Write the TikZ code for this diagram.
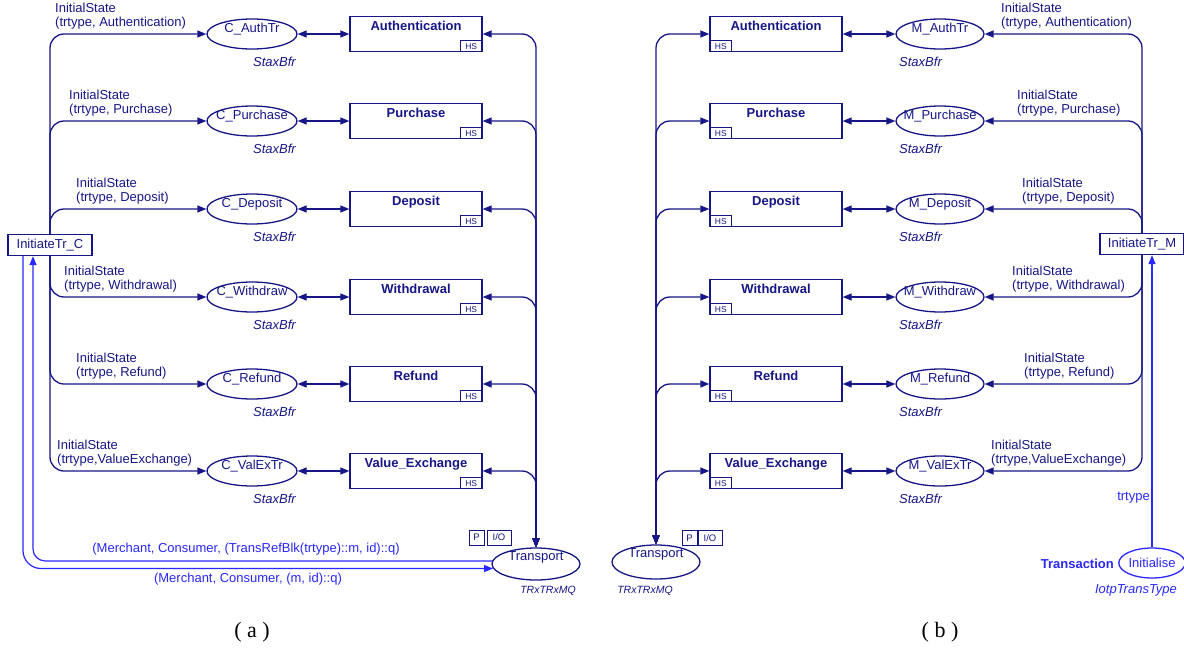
\documentclass[tikz,border=0pt]{standalone}
\usepackage{fontspec}
\setmainfont{Liberation Sans}
\newfontfamily\captionserif{Liberation Serif}
\usetikzlibrary{shapes.geometric,arrows.meta}

\definecolor{netnavy}{RGB}{22,22,135}
\definecolor{netblue}{RGB}{40,40,255}

\tikzset{
  every node/.style={font=\fontsize{13}{14.5}\selectfont, text=netnavy, inner sep=0pt},
  place/.style={ellipse, draw=netnavy, line width=1.3pt, minimum width=90pt, minimum height=30pt},
  placetext/.style={anchor=center, yshift=-11pt},
  subst/.style={rectangle, draw=netnavy, line width=1.3pt, minimum width=132pt, minimum height=35pt},
  substtitle/.style={anchor=north, yshift=-5.5pt, font=\bfseries\fontsize{13}{14.5}\selectfont},
  hstag/.style={rectangle, draw=netnavy, line width=0.9pt, minimum width=22pt, minimum height=11pt, font=\fontsize{8.5}{9}\selectfont},
  porttag/.style={rectangle, draw=netnavy, line width=0.9pt, minimum width=15pt, minimum height=15pt, font=\fontsize{9.5}{10}\selectfont},
  trans/.style={rectangle, draw=netnavy, line width=1.3pt, minimum width=84pt, minimum height=21pt},
  colset/.style={font=\itshape\fontsize{13}{14.5}\selectfont},
  smallcolset/.style={font=\itshape\fontsize{10.5}{12}\selectfont},
  arclabel/.style={align=left, anchor=north west, font=\fontsize{13}{14}\selectfont},
  arc/.style={draw=netnavy, line width=1.3pt, rounded corners=14pt},
  bluearc/.style={draw=netblue, line width=1.2pt},
  bluetext/.style={text=netblue},
  caption/.style={font=\captionserif\fontsize{22}{24}\selectfont, text=black},
  >={Triangle[length=9pt,width=7pt]}
}

\begin{document}
\begin{tikzpicture}[x=1pt,y=-1pt]
\useasboundingbox (0,0) rectangle (1184,648);

% ---------- consumer page ----------
\node[trans] (itc) at (50,245) {InitiateTr\_C};
\node[place, minimum width=88pt, minimum height=32pt,
      label={[placetext, yshift=1pt]north:Transport}] (ta) at (536,564) {};
\node[smallcolset] (tta) at (548,591) {TRxTRxMQ};
\node[porttag] (pa) at (476.5,537.5) {P};
\node[porttag, minimum width=24pt] (ioa) at (499,537.5) {I/O};

% ---------- merchant page ----------
\node[trans] (itm) at (1142,244) {InitiateTr\_M};
\node[place, minimum width=88pt, minimum height=34pt,
      label={[placetext, yshift=1pt]north:Transport}] (tb) at (656,562) {};
\node[smallcolset] (ttb) at (645,591) {TRxTRxMQ};
\node[porttag] (pb) at (689.5,538) {P};
\node[porttag, minimum width=24pt] (iob) at (710,538) {I/O};

\node[place, draw=netblue, minimum width=60pt, minimum height=30pt, text=netblue] (ini) at (1152,563) {Initialise};
\node[bluetext, anchor=east, font=\bfseries\fontsize{13}{14.5}\selectfont] (trn) at (1114,564) {Transaction};
\node[bluetext, colset] (iot) at (1136,590) {IotpTransType};
\node[bluetext, anchor=east] (trt) at (1150,498) {trtype};
\draw[bluearc,->] (ini.north) -- (ini.north |- itm.south);

% ---------- one row per transaction kind ----------
\foreach \rk/\ry/\rpl/\rtr/\rside/\rla/\rlb/\rarg in {
  A/34/AuthTr/Authentication/north/55/1001/{trtype, Authentication},
  P/121/Purchase/Purchase/north/69/1017/{trtype, Purchase},
  D/209/Deposit/Deposit/north/76/1022/{trtype, Deposit},
  W/297/Withdraw/Withdrawal/south/64/1012/{trtype, Withdrawal},
  R/384/Refund/Refund/south/76/1024/{trtype, Refund},
  V/471/ValExTr/Value\_Exchange/south/57/991/{trtype,ValueExchange}%
}{
  % consumer side
  \node[place, label={[placetext]north:C\_\rpl}] (c\rk) at (252,\ry) {};
  \node[colset, anchor=east] (sc\rk) at (296,\ry+28) {StaxBfr};
  \node[subst] (b\rk) at (416,\ry) {};
  \node[substtitle] (tb\rk) at (b\rk.north) {\rtr};
  \node[hstag, anchor=south east] (hb\rk) at (b\rk.south east) {HS};
  \node[arclabel] (lc\rk) at (\rla,\ry-31) {InitialState\\(\rarg)};
  \draw[arc,<->] (c\rk.east) -- (b\rk.west);
  \draw[arc,->] (itc.\rside) |- (c\rk.west);
  \draw[arc,<->] (b\rk.east) -| (ta.north);

  % merchant side
  \node[place, minimum width=88pt, label={[placetext]north:M\_\rpl}] (m\rk) at (940,\ry) {};
  \node[colset, anchor=west] (sm\rk) at (899,\ry+28) {StaxBfr};
  \node[subst] (d\rk) at (776,\ry) {};
  \node[substtitle] (td\rk) at (d\rk.north) {\rtr};
  \node[hstag, anchor=south west] (hd\rk) at (d\rk.south west) {HS};
  \node[arclabel] (lm\rk) at (\rlb,\ry-31) {InitialState\\(\rarg)};
  \draw[arc,<->] (d\rk.east) -- (m\rk.west);
  \draw[arc,->] (itm.\rside) |- (m\rk.east);
  \draw[arc,<->] (d\rk.west) -| (tb.north);
}

% ---------- transport exchange on the consumer page ----------
\draw[bluearc,->,rounded corners=12pt] (ta.176) -| ([xshift=-17pt]itc.south);
\draw[bluearc,->,rounded corners=18pt] ([xshift=-27pt]itc.south) |- (ta.186);
\node[bluetext] (qa) at (246,549) {(Merchant, Consumer, (TransRefBlk(trtype)::m, id)::q)};
\node[bluetext] (qb) at (248,579) {(Merchant, Consumer, (m, id)::q)};

% ---------- captions ----------
\node[caption] (capa) at (252,632) {( a )};
\node[caption] (capb) at (940,632) {( b )};
\end{tikzpicture}
\end{document}
